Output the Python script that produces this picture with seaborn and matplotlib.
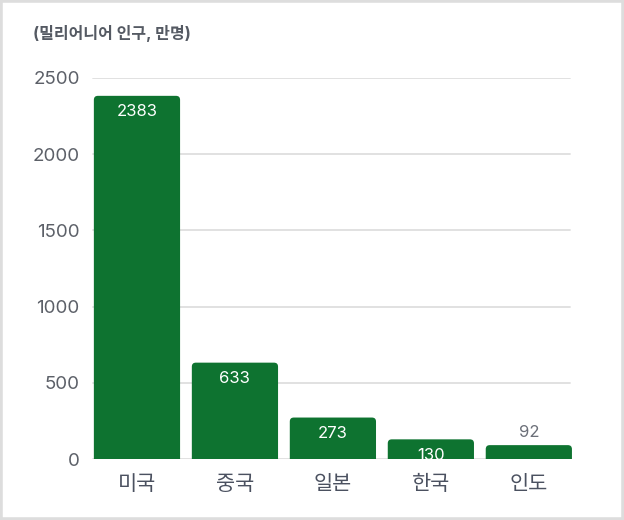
import matplotlib
matplotlib.use("Agg")
import matplotlib.pyplot as plt
import seaborn as sns
import pandas as pd
from matplotlib.patches import Rectangle, FancyBboxPatch

countries = ["미국", "중국", "일본", "한국", "인도"]
values = [2383, 633, 273, 130, 92]
yticks = [0, 500, 1000, 1500, 2000, 2500]
title = "(밀리어니어 인구, 만명)"

sns.set_theme(style="white")
plt.rcParams["font.family"] = ["Inter", "Noto Sans CJK KR", "DejaVu Sans"]

df = pd.DataFrame({"country": countries, "value": values})

fig = plt.figure(figsize=(6.24, 5.2), dpi=100)
ax = fig.add_axes([0.141, 0.117, 0.785, 0.733])

bar_color = "#0e7330"
sns.barplot(data=df, x="country", y="value", color=bar_color, saturation=1,
            width=0.88, ax=ax, zorder=3)

# round the top corners of the bars
rx = 4 / 98
ry = 4 / (382 / 2500)
for p in list(ax.patches):
    x, y, w, h = p.get_x(), p.get_y(), p.get_width(), p.get_height()
    fb = FancyBboxPatch((x, y - ry), w, h + ry,
                        boxstyle=f"round,pad=0,rounding_size={rx}",
                        mutation_aspect=ry / rx, facecolor=bar_color,
                        edgecolor="none", zorder=3)
    p.remove()
    ax.add_patch(fb)

ax.set_xlim(-0.5, 4.5)
ax.set_ylim(0, 2500)
ax.set_yticks(yticks)
ax.set_yticklabels([str(t) for t in yticks], fontsize=13.5, color="#5c6068")
ax.tick_params(axis="x", labelsize=15, colors="#4b5160", length=0, pad=11)
ax.tick_params(axis="y", length=0, pad=6)
for t in yticks:
    ax.axhline(t, xmin=0.01, xmax=0.984, color="#dedede", lw=1.3, zorder=1)
for s in ax.spines.values():
    s.set_visible(False)
ax.set_xlabel("")
ax.set_ylabel("")

for i, v in enumerate(values):
    if v >= 100:
        ax.annotate(str(v), (i, v), xytext=(0, -6), textcoords="offset points",
                    ha="center", va="top", color="white", fontsize=12, zorder=4)
    else:
        ax.annotate(str(v), (i, v), xytext=(0, 4), textcoords="offset points",
                    ha="center", va="bottom", color="#6b6f78", fontsize=12, zorder=4)

fig.text(33/624, 1 - 33/520, title, fontsize=11.5, fontweight="bold",
         color="#555a63", ha="left", va="center")

fig.patches.append(Rectangle((0, 0), 1, 1, transform=fig.transFigure,
                             fill=False, edgecolor="#dddddd", lw=4))

fig.savefig("out.png", dpi=100)
